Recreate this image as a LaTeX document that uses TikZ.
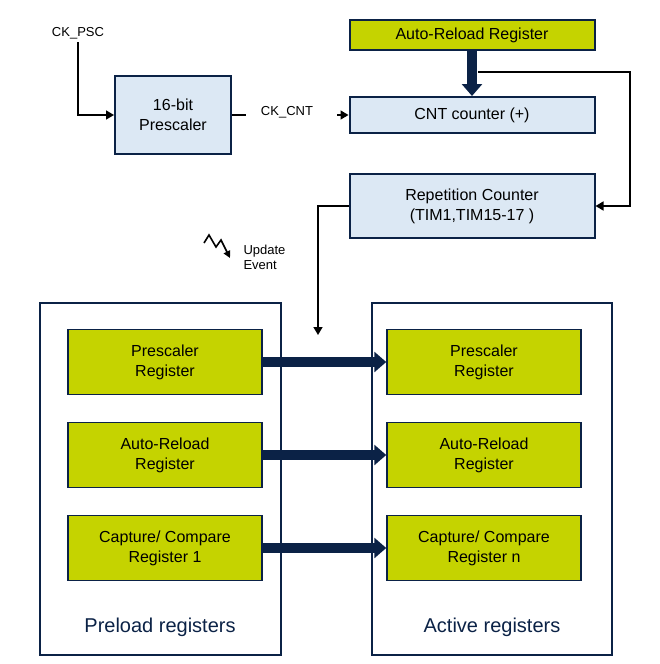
\documentclass[tikz,border=0pt]{standalone}
\usepackage{fontspec}
\setmainfont{Liberation Sans}
\usetikzlibrary{arrows.meta}
\usetikzlibrary{positioning}
\definecolor{boxblue}{HTML}{DCE8F4}
\definecolor{regyellow}{HTML}{C5D300}
\definecolor{navy}{HTML}{0B2246}
\tikzset{
  blk/.style={draw=navy, line width=2pt, fill=boxblue, align=center, font=\fontsize{16}{20}\selectfont},
  reg/.style={draw=navy, line width=1.5pt, fill=regyellow, align=center, font=\fontsize{16}{20}\selectfont, minimum width=194pt, minimum height=65pt},
  wire/.style={line width=1.6pt, -{Triangle[length=8pt,width=9pt]}},
  bus/.style={line width=10pt, navy, -{Triangle[length=12pt,width=20pt]}}
}
\begin{document}
\begin{tikzpicture}[x=1pt, y=-1pt]
    \useasboundingbox (0,0) rectangle (660,664);
    \node [font=\fontsize{13}{15}\selectfont] (ckpsc) at (78,33) {CK\_PSC};
    \node [blk, minimum width=116pt, minimum height=78pt] (psc) at (173,115) {16-bit\\Prescaler};
    \node [reg, minimum width=245pt, minimum height=30pt, line width=2pt] (arr) at (472,35) {Auto-Reload Register};
    \node [blk, minimum width=245pt, minimum height=36pt] (cnt) at (472,115) {CNT counter (+)};
    \node [blk, minimum width=245pt, minimum height=64pt] (rep) at (472,206) {Repetition Counter\\(TIM1,TIM15-17 )};
    \node [font=\fontsize{13}{15}\selectfont] (ckcnt) at (287,112) {CK\_CNT};
    \coordinate (pscout) at (246,115);
    \coordinate (cntin) at (337,115);
    \coordinate (tap) at (478,72);
    \coordinate (down) at (318,335);

    \draw [wire] (ckpsc.south) |- (psc.west);
    \draw [line width=1.6pt] (psc.east) -- (pscout);
    \draw [wire] (cntin) -- (cnt.west);
    \draw [bus] (arr.south) -- (cnt.north);
    \draw [wire] (tap) -- (630,72) |- (rep.east);
    \draw [wire] (rep.west) -| (down);

    % update event
    \draw [line width=1.6pt, -{Triangle[length=7pt,width=7pt]}] (204,243) -- (209,235) -- (216,247) -- (221,240) -- (230,258);
    \node [font=\fontsize{13}{15}\selectfont, align=left, anchor=west] (upd) at (240,257) {Update\\Event};

    % register banks
    \draw [navy, line width=1.8pt] (40,303) rectangle (281,655);
    \draw [navy, line width=1.8pt] (372,303) rectangle (612,655);
    \node [text=navy, font=\fontsize{20}{24}\selectfont] (prel) at (160,627) {Preload registers};
    \node [text=navy, font=\fontsize{20}{24}\selectfont] (act) at (492,627) {Active registers};
    \foreach \n/\y/\a/\b in {p/362/Prescaler/Register, a/455/Auto-Reload/Register, c/548/{Capture/ Compare}/Register 1} {
      \node [reg] (pre\n) at (165,\y) {\a\\\b};
    }
    \foreach \n/\y/\a/\b in {p/362/Prescaler/Register, a/455/Auto-Reload/Register, c/548/{Capture/ Compare}/Register n} {
      \node [reg] (act\n) at (484,\y) {\a\\\b};
    }
    \foreach \n in {p,a,c}
      \draw [bus] (pre\n.east) -- (act\n.west);
\end{tikzpicture}
\end{document}
